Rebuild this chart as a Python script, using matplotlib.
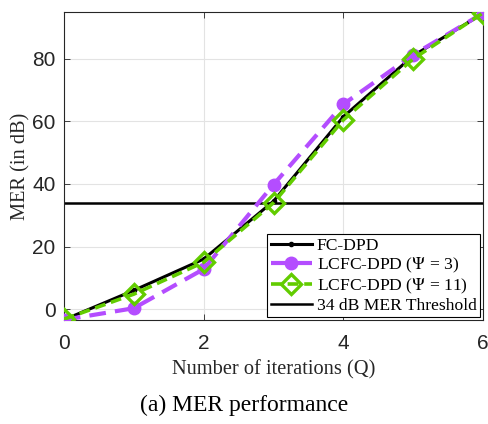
import matplotlib
matplotlib.use("Agg")
import matplotlib.pyplot as plt

plt.rcParams["mathtext.fontset"] = "stix"

PURPLE = "#B44DFF"
GREEN = "#62CC00"
GRID = "#E3E3E3"

iterations = [0, 1, 2, 3, 4, 5, 6]
fc_dpd = [-3.4, 6.0, 16.0, 34.5, 61.5, 81.0, 94.5]
lcfc_psi3 = [-3.4, 0.3, 12.8, 39.8, 65.5, 81.3, 94.6]
lcfc_psi11 = [-3.2, 4.8, 15.0, 34.0, 60.5, 80.0, 94.7]
threshold_db = 34

xticks = [0, 2, 4, 6]
yticks = [0, 20, 40, 60, 80]

serif = ["Liberation Serif", "DejaVu Serif"]
sans = ["Liberation Sans", "DejaVu Sans"]

fig = plt.figure(figsize=(4.88, 4.24), dpi=100)
ax = fig.add_axes([0.131, 0.245, 0.859, 0.727])

ax.plot(iterations, fc_dpd, color="black", linewidth=2.2, marker=".",
        markersize=6, label="FC-DPD", zorder=3)
ax.plot(iterations, lcfc_psi3, color=PURPLE, linewidth=3.0, dashes=(4, 2.2),
        marker="o", markersize=9, label=r"LCFC-DPD ($\Psi$ = 3)", zorder=4)
ax.plot(iterations, lcfc_psi11, color=GREEN, linewidth=2.6, dashes=(3, 1.6),
        marker="D", markersize=10, markerfacecolor="none", markeredgewidth=2.4,
        label=r"LCFC-DPD ($\Psi$ = 11)", zorder=5)
ax.axhline(threshold_db, color="black", linewidth=1.8,
           label="34 dB MER Threshold", zorder=2)

ax.set_xlim(0, 6)
ax.set_ylim(-3.5, 95)
ax.set_xticks(xticks)
ax.set_yticks(yticks)
ax.tick_params(direction="in", top=True, right=True, length=4, width=0.6,
               labelsize=15, colors="#262626", pad=6)
ax.tick_params(axis="x", pad=10)
for label in ax.get_xticklabels() + ax.get_yticklabels():
    label.set_fontfamily(sans)
ax.grid(True, color=GRID, linewidth=0.8)
ax.set_axisbelow(True)
for spine in ax.spines.values():
    spine.set_linewidth(0.8)
    spine.set_color("#262626")

ax.set_xlabel("Number of iterations (Q)", fontfamily=serif, fontsize=14.7,
              labelpad=5, color="#262626")
ax.set_ylabel("MER (in dB)", fontfamily=serif, fontsize=14.7, labelpad=1,
              color="#262626")

leg = ax.legend(loc="lower right", prop={"family": serif, "size": 12.6},
                frameon=True, fancybox=False, edgecolor="black", framealpha=1,
                borderaxespad=0.15, handlelength=2.3, handletextpad=0.3,
                labelspacing=0.1, borderpad=0.22)
leg.get_frame().set_linewidth(0.8)

fig.text(0.5, 0.02, "(a) MER performance", ha="center", va="bottom",
         fontfamily=serif, fontsize=17)

fig.savefig("out.png", dpi=100)
